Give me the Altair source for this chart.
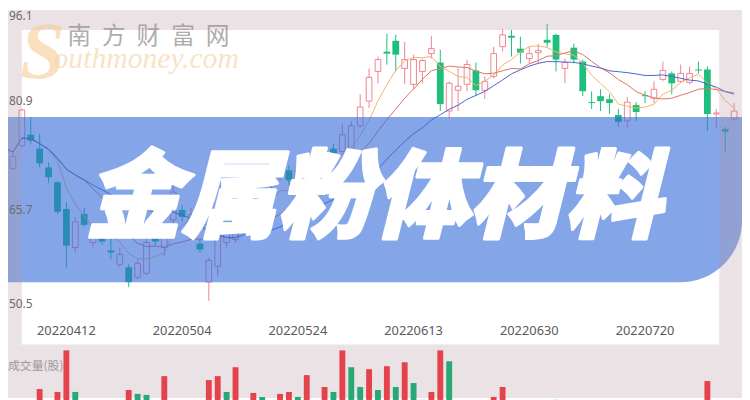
import altair as alt
import pandas as pd

# ---------------- data ----------------
opens = [75.28,71.32,74.82,76.49,74.36,71.48,69.20,65.09,59.16,64.33,
         59.92,60.99,58.71,56.58,56.12,54.60,55.21,60.99,59.16,63.42,
         64.94,61.90,59.77,53.84,56.28,59.92,60.38,69.50,68.74,67.22,
         66.46,70.56,71.02,69.20,70.72,72.24,71.02,74.36,73.91,73.91,
         77.86,81.66,86.22,89.26,90.93,86.68,84.24,86.22,88.96,87.59,
         80.14,83.33,84.24,86.37,83.33,85.46,90.02,91.69,89.72,88.20,
         89.11,91.08,91.84,86.68,89.87,87.74,81.51,82.42,81.96,79.53,
         78.62,81.05,82.57,82.12,85.00,85.92,84.70,84.55,86.52,86.52,
         79.68,77.40,78.92]
closes = [74.52,73.15,80.29,75.58,72.08,69.96,64.64,59.47,63.12,62.66,
          60.84,60.08,58.40,58.10,53.84,56.73,59.92,60.08,61.44,67.68,
          63.88,64.18,58.86,57.19,61.44,61.44,64.18,69.20,66.46,64.94,
          67.52,71.32,69.50,71.02,72.54,71.32,74.06,72.84,76.49,77.86,
          80.75,85.31,88.04,88.96,88.80,88.04,88.04,87.89,89.72,81.20,
          84.40,83.94,87.28,83.33,84.70,88.96,91.84,91.39,89.11,88.96,
          89.41,90.63,88.04,87.59,88.04,83.18,81.36,81.66,81.36,78.47,
          81.51,79.99,82.42,83.48,86.37,84.40,85.92,85.92,86.37,79.68,
          79.84,76.95,80.14]
highs = [76.80,73.76,80.44,79.23,76.64,72.24,69.35,66.16,63.88,65.24,
         61.44,61.60,60.68,59.16,56.58,57.34,60.84,61.90,62.66,68.74,
         65.70,65.24,60.38,57.64,62.66,62.20,64.64,71.02,69.50,67.98,
         68.74,72.54,71.78,71.78,73.15,72.84,74.52,75.12,78.16,78.62,
         82.72,86.68,88.50,92.00,91.84,90.78,88.80,88.20,91.69,89.56,
         84.70,86.68,88.04,87.59,85.46,90.02,92.76,92.60,91.54,90.02,
         90.48,93.52,92.00,88.20,90.48,88.04,83.18,83.48,82.72,80.44,
         82.27,81.51,83.18,84.70,87.74,86.22,87.28,86.98,87.74,86.98,
         80.44,77.71,81.36]
lows = [74.06,71.02,74.52,75.12,71.48,69.04,64.33,56.12,58.40,62.36,
        59.16,59.62,57.34,56.12,53.08,54.30,54.91,59.47,57.80,61.60,
        63.12,61.14,58.40,50.96,54.76,59.16,59.92,67.98,65.70,64.18,
        65.70,69.50,68.74,68.44,70.26,70.56,70.56,72.24,73.76,73.76,
        77.56,80.60,84.40,87.28,86.22,84.24,83.48,84.40,88.20,80.14,
        79.08,80.14,83.18,82.42,81.96,85.16,89.26,88.50,87.44,87.44,
        87.44,90.02,86.22,84.40,87.44,82.42,80.44,80.14,79.68,77.71,
        77.56,78.62,81.36,81.36,84.70,82.72,84.40,84.24,85.92,77.10,
        77.56,73.76,78.62]
volumes = [20,22,25,20,39,22,36,78,36,22,
           18,20,18,24,38,34,33,20,52,26,
           22,25,20,48,52,36,61,24,35,31,
           25,34,36,31,53,26,41,36,78,61,
           41,59,38,62,41,66,45,28,36,78,
           67,26,24,25,22,31,41,24,20,22,
           20,24,28,20,20,26,22,18,18,20,
           22,18,16,20,22,20,18,18,16,47,
           22,26,22]
vol_up = [0,1,1,0,1,0,1,1,0,0,
          1,0,0,1,1,0,0,0,1,1,
          0,1,0,1,1,0,1,0,1,0,
          1,1,1,0,1,0,1,0,1,0,
          0,1,0,1,0,1,0,1,1,1,
          0,1,1,0,1,1,1,0,0,1,
          1,0,0,1,0,0,0,0,0,0,
          1,0,0,1,1,0,1,1,0,1,
          1,0,1]
tick_idx = [7, 20, 33, 46, 59, 72]
tick_labels = ["20220412", "20220504", "20220524", "20220613", "20220630", "20220720"]
y_label_values = [96.1, 80.9, 65.7, 50.5]
title_text = "金属粉体材料"
vol_title = "成交量(股)"
wm_cn = "南方财富网"
wm_en = "outhmoney.com"
wm_s = "S"

# ---------------- tables ----------------
n = len(opens)
df = pd.DataFrame({"i": list(range(n)), "open": opens, "close": closes,
                   "high": highs, "low": lows})
dfv = pd.DataFrame({"i": list(range(n)), "vol": volumes,
                    "dir": ["up" if u else "down" for u in vol_up]})
dft = pd.DataFrame({"i": tick_idx, "label": tick_labels})

W, H = 742, 392
xs = alt.Scale(domain=[0.444, 82.889], nice=False, zero=False)
ys = alt.Scale(domain=[36.06, 95.644], nice=False, zero=False)
vs = alt.Scale(domain=[30, 30 + H], nice=False, zero=False)

RED = "#ef8590"
GREEN = "#1ebf7c"

one = pd.DataFrame({"a": [0]})

base = alt.Chart(df)
up_df = base.transform_filter("datum.close >= datum.open")
dn_df = base.transform_filter("datum.close < datum.open")

wick_up = up_df.mark_rule(color=RED, strokeWidth=1).encode(
    x=alt.X("i:Q", scale=xs, axis=None),
    y=alt.Y("low:Q", scale=ys, axis=None), y2="high:Q")
wick_dn = dn_df.mark_rule(color=GREEN, strokeWidth=1).encode(
    x=alt.X("i:Q", scale=xs, axis=None),
    y=alt.Y("low:Q", scale=ys, axis=None), y2="high:Q")
body_up = up_df.transform_calculate(x0="datum.i - 0.32", x1="datum.i + 0.32").mark_rect(
    fill="white", stroke=RED, strokeWidth=1).encode(
    x=alt.X("x0:Q", scale=xs, axis=None), x2="x1:Q",
    y=alt.Y("open:Q", scale=ys, axis=None), y2="close:Q")
body_dn = dn_df.transform_calculate(x0="datum.i - 0.38", x1="datum.i + 0.38").mark_rect(
    fill=GREEN).encode(
    x=alt.X("x0:Q", scale=xs, axis=None), x2="x1:Q",
    y=alt.Y("open:Q", scale=ys, axis=None), y2="close:Q")

def ma_line(k, name, color):
    return base.transform_window(
        **{name: "mean(close)"}, frame=[-(k - 1), 0], sort=[alt.SortField("i")]
    ).mark_line(color=color, strokeWidth=1).encode(
        x=alt.X("i:Q", scale=xs, axis=None),
        y=alt.Y(f"{name}:Q", scale=ys, axis=None))

ma5 = ma_line(5, "ma5", "#f2b46e")
ma10 = ma_line(10, "ma10", "#d8765f")
ma20 = ma_line(20, "ma20", "#4a64cf")

banner = alt.Chart(one).mark_rect(color="#326bd9", opacity=0.6,
                                  cornerRadiusBottomRight=62).encode(
    x=alt.value(-2), x2=alt.value(W), y=alt.value(108), y2=alt.value(275))

OV = "#b496a0"
OVA = 0.28
ov_top = alt.Chart(one).mark_rect(color=OV, opacity=OVA).encode(
    x=alt.value(0), x2=alt.value(W), y=alt.value(0), y2=alt.value(20))
ov_left = alt.Chart(one).mark_rect(color=OV, opacity=OVA).encode(
    x=alt.value(0), x2=alt.value(14), y=alt.value(20), y2=alt.value(338))
ov_right = alt.Chart(one).mark_rect(color=OV, opacity=OVA).encode(
    x=alt.value(719), x2=alt.value(W), y=alt.value(20), y2=alt.value(338))
ov_bot = alt.Chart(one).mark_rect(color=OV, opacity=OVA).encode(
    x=alt.value(0), x2=alt.value(W), y=alt.value(338), y2=alt.value(H))

title = alt.Chart(pd.DataFrame({"t": [title_text]})).mark_text(
    font="Noto Sans CJK SC", fontSize=97, fontWeight=900, fontStyle="italic",
    color="white", stroke="white", strokeWidth=3, strokeJoin="round",
    align="center", baseline="middle").encode(
    x=alt.value(369), y=alt.value(193), text="t:N")

ylabels = []
for v, bl, dy in zip(y_label_values, ["top", "middle", "middle", "middle"], [4, -5, 5, 0]):
    ylabels.append(alt.Chart(pd.DataFrame({"v": [v]})).mark_text(
        font="Noto Sans", fontSize=12, color="#6a6a6a", align="left",
        baseline=bl, dy=dy).encode(
        x=alt.value(1), y=alt.Y("v:Q", scale=ys, axis=None),
        text=alt.Text("v:Q", format=".1f")))

dates = alt.Chart(dft).mark_text(font="Noto Sans", fontSize=13, color="#5a5a5a",
                                 align="center", baseline="middle").encode(
    x=alt.X("i:Q", scale=xs, axis=None), y=alt.value(324), text="label:N")

vol = alt.Chart(dfv).transform_calculate(x0="datum.i - 0.33", x1="datum.i + 0.33",
                                         z="0").mark_rect().encode(
    x=alt.X("x0:Q", scale=xs, axis=None), x2="x1:Q",
    y=alt.Y("vol:Q", scale=vs, axis=None), y2="z:Q",
    color=alt.Color("dir:N", scale=alt.Scale(domain=["up", "down"],
                                             range=["#e5434c", "#27a874"]), legend=None))

vol_lbl = alt.Chart(pd.DataFrame({"t": [vol_title]})).mark_text(
    font="Noto Sans CJK SC", fontSize=12, color="#9a9a9a", align="left",
    baseline="middle").encode(x=alt.value(0), y=alt.value(360), text="t:N")

wm = []
wm.append(alt.Chart(pd.DataFrame({"t": [wm_s]})).mark_text(
    font="Liberation Serif", fontSize=82, fontStyle="italic", fontWeight="bold",
    color="#f5c98c", opacity=0.55, align="center", baseline="middle").encode(
    x=alt.value(35), y=alt.value(44), text="t:N"))
wm.append(alt.Chart(pd.DataFrame({"t": [wm_en]})).mark_text(
    font="Liberation Serif", fontSize=30, fontStyle="italic",
    color="#f5d8b0", opacity=0.7, align="left", baseline="alphabetic").encode(
    x=alt.value(46), y=alt.value(59), text="t:N"))
for k, ch in enumerate(wm_cn):
    wm.append(alt.Chart(pd.DataFrame({"t": [ch]})).mark_text(
        font="Noto Sans CJK SC", fontSize=24, color="#8f8a8a", opacity=0.7,
        align="center", baseline="middle").encode(
        x=alt.value(72 + 35 * k), y=alt.value(27), text="t:N"))

price_layer = alt.layer(wick_up, wick_dn, body_up, body_dn, ma5, ma10, ma20,
                        banner, ov_top, ov_left, ov_right, ov_bot,
                        *ylabels, dates, *wm, title)

chart = alt.layer(price_layer, vol, vol_lbl).resolve_scale(y="independent").properties(
    width=W, height=H, padding=0, autosize="none", background="white"
).configure_view(stroke=None)

chart.save("out.html", embed_options={"renderer": "svg", "actions": False})
